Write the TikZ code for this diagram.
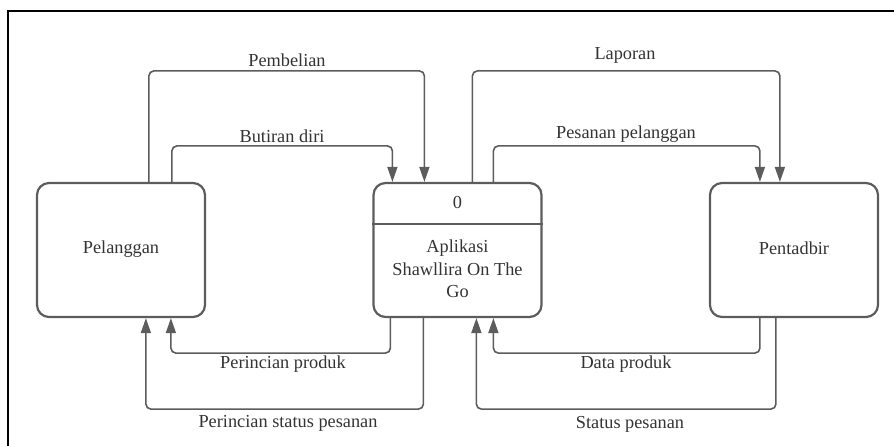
\documentclass[tikz,border=0pt]{standalone}
\usepackage{fontspec}
\setmainfont{Liberation Serif}
\usetikzlibrary{calc,arrows.meta}
\definecolor{ink}{HTML}{5C5C5C}
\definecolor{txt}{HTML}{333333}
\tikzset{
  entity/.style={draw=ink, line width=2.2pt, rounded corners=12pt,
    minimum width=168pt, minimum height=134pt, inner sep=0pt},
  flow/.style={draw=ink, line width=1.6pt, rounded corners=5pt,
    -{Triangle[width=10pt,length=15pt]}},
  lbl/.style={text=txt, font=\fontsize{18.3}{22}\selectfont, inner sep=0pt},
  boxtext/.style={text=txt, font=\fontsize{18.3}{22.5}\selectfont, align=center, inner sep=0pt}
}
\begin{document}
\begin{tikzpicture}[x=1pt,y=-1pt]
\useasboundingbox (0,0) rectangle (894,446);
% outer frame (left and top edges)
\draw[black, line width=1.6pt] (8,446) -- (8,11) -- (894,11);

% entities and the process
\node[entity] (pel) at (121,250) {};
\node[entity] (proc) at (457.5,250) {};
\node[entity] (pent) at (794,250) {};
\draw[ink, line width=2.2pt] ($(proc.north west)+(0,42)$) coordinate (divl) -- ($(proc.north east)+(0,42)$) coordinate (divr);

\node[boxtext] (pelt) at (121,249) {Pelanggan};
\node[boxtext] (pentt) at (794,248) {Pentadbir};
\node[boxtext] (pnum) at (457.5,203) {0};
\node[boxtext] (pname) at (457.5,269) {Aplikasi\\Shawllira On The\\Go};

% flows above the boxes
\draw[flow] ($(pel.north west)+(113,0)$) -- ++(0,-111) -| ($(proc.north west)+(52,0)$);
\draw[flow] ($(pel.north west)+(136,0)$) -- ++(0,-36) -| ($(proc.north west)+(20,0)$);
\draw[flow] ($(proc.north west)+(100,0)$) -- ++(0,-111) -| ($(pent.north west)+(71,0)$);
\draw[flow] ($(proc.north west)+(121,0)$) -- ++(0,-36) -| ($(pent.north west)+(51,0)$);

% flows below the boxes
\draw[flow] ($(proc.south west)+(18,0)$) -- ++(0,35) -| ($(pel.south west)+(135,0)$);
\draw[flow] ($(proc.south west)+(51,0)$) -- ++(0,91) -| ($(pel.south west)+(110,0)$);
\draw[flow] ($(pent.south west)+(51,0)$) -- ++(0,35) -| ($(proc.south west)+(121,0)$);
\draw[flow] ($(pent.south west)+(67,0)$) -- ++(0,91) -| ($(proc.south west)+(104,0)$);

% flow labels
\node[lbl] (l1) at (287,60) {Pembelian};
\node[lbl] (l2) at (282,136) {Butiran diri};
\node[lbl] (l3) at (625,55) {Laporan};
\node[lbl] (l4) at (626,134) {Pesanan pelanggan};
\node[lbl] (l5) at (283,364) {Perincian produk};
\node[lbl] (l6) at (288,423) {Perincian status pesanan};
\node[lbl] (l7) at (626,364) {Data produk};
\node[lbl] (l8) at (630,424) {Status pesanan};
\end{tikzpicture}
\end{document}
